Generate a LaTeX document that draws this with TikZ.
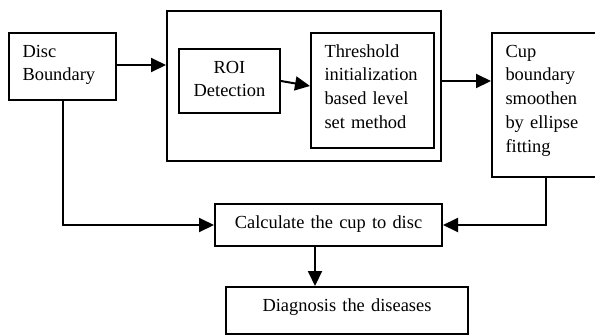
\documentclass[tikz,border=0pt]{standalone}
\usepackage{fontspec}
\setmainfont{Liberation Serif}
\usepackage{tikz}
\usetikzlibrary{arrows.meta}

\begin{document}
\begin{tikzpicture}[
    x=1bp, y=-1bp,
    % styles
    box/.style={draw, line width=2bp, inner ysep=0pt, text height=24bp,
      font=\fontsize{18.5}{24}\selectfont},
    leftbox/.style={box, align=left, inner xsep=13.5bp},
    midbox/.style={box, align=center, inner xsep=4bp},
    arr/.style={line width=2bp, -{Triangle[length=15bp, width=14bp]}}]

    \useasboundingbox (0, 0) rectangle (595, 334);

    % outer frame of the level set stage
    \node [draw, line width=2bp, inner sep=0pt, anchor=north west,
      minimum width=274bp, minimum height=150bp] (stage) at (166, 10) {};

    % boxes
    \node [leftbox, anchor=north west, text width=80bp, text depth=43bp]
      (disc) at (8, 32) {Disc\\Boundary};
    \node [midbox, anchor=north west, text width=93bp, text depth=40bp]
      (roi) at (178, 48) {ROI\\Detection};
    \node [leftbox, anchor=north west, text width=96bp, text depth=91bp]
      (thr) at (310, 32) {Threshold\\initialization\\based level\\set method};
    \node [leftbox, anchor=north west, text width=80bp, text depth=120bp]
      (cup) at (491, 32) {Cup\\boundary\\smoothen\\by ellipse\\fitting};
    \node [midbox, anchor=north west, text width=219bp, text depth=18bp]
      (calc) at (214, 203) {Calculate the cup to disc};
    \node [midbox, anchor=north west, text width=234bp, text depth=23bp]
      (diag) at (225, 286) {Diagnosis the diseases};

    % arrows
    \draw [arr] ([yshift=1.5bp]disc.east) -- ([yshift=1.5bp]disc.east -| stage.west);
    \draw [arr] (roi.east) -- ([yshift=4.5bp]thr.west);
    \draw [arr] ([yshift=5bp]stage.east) -- ([yshift=5bp]stage.east -| cup.west);
    \draw [arr] (disc.south) |- (calc.west);
    \draw [arr] (cup.south) |- (calc.east);
    \draw [arr] ([xshift=-13.5bp]calc.south) -- ([xshift=-13.5bp]calc.south |- diag.north);

\end{tikzpicture}
\end{document}
